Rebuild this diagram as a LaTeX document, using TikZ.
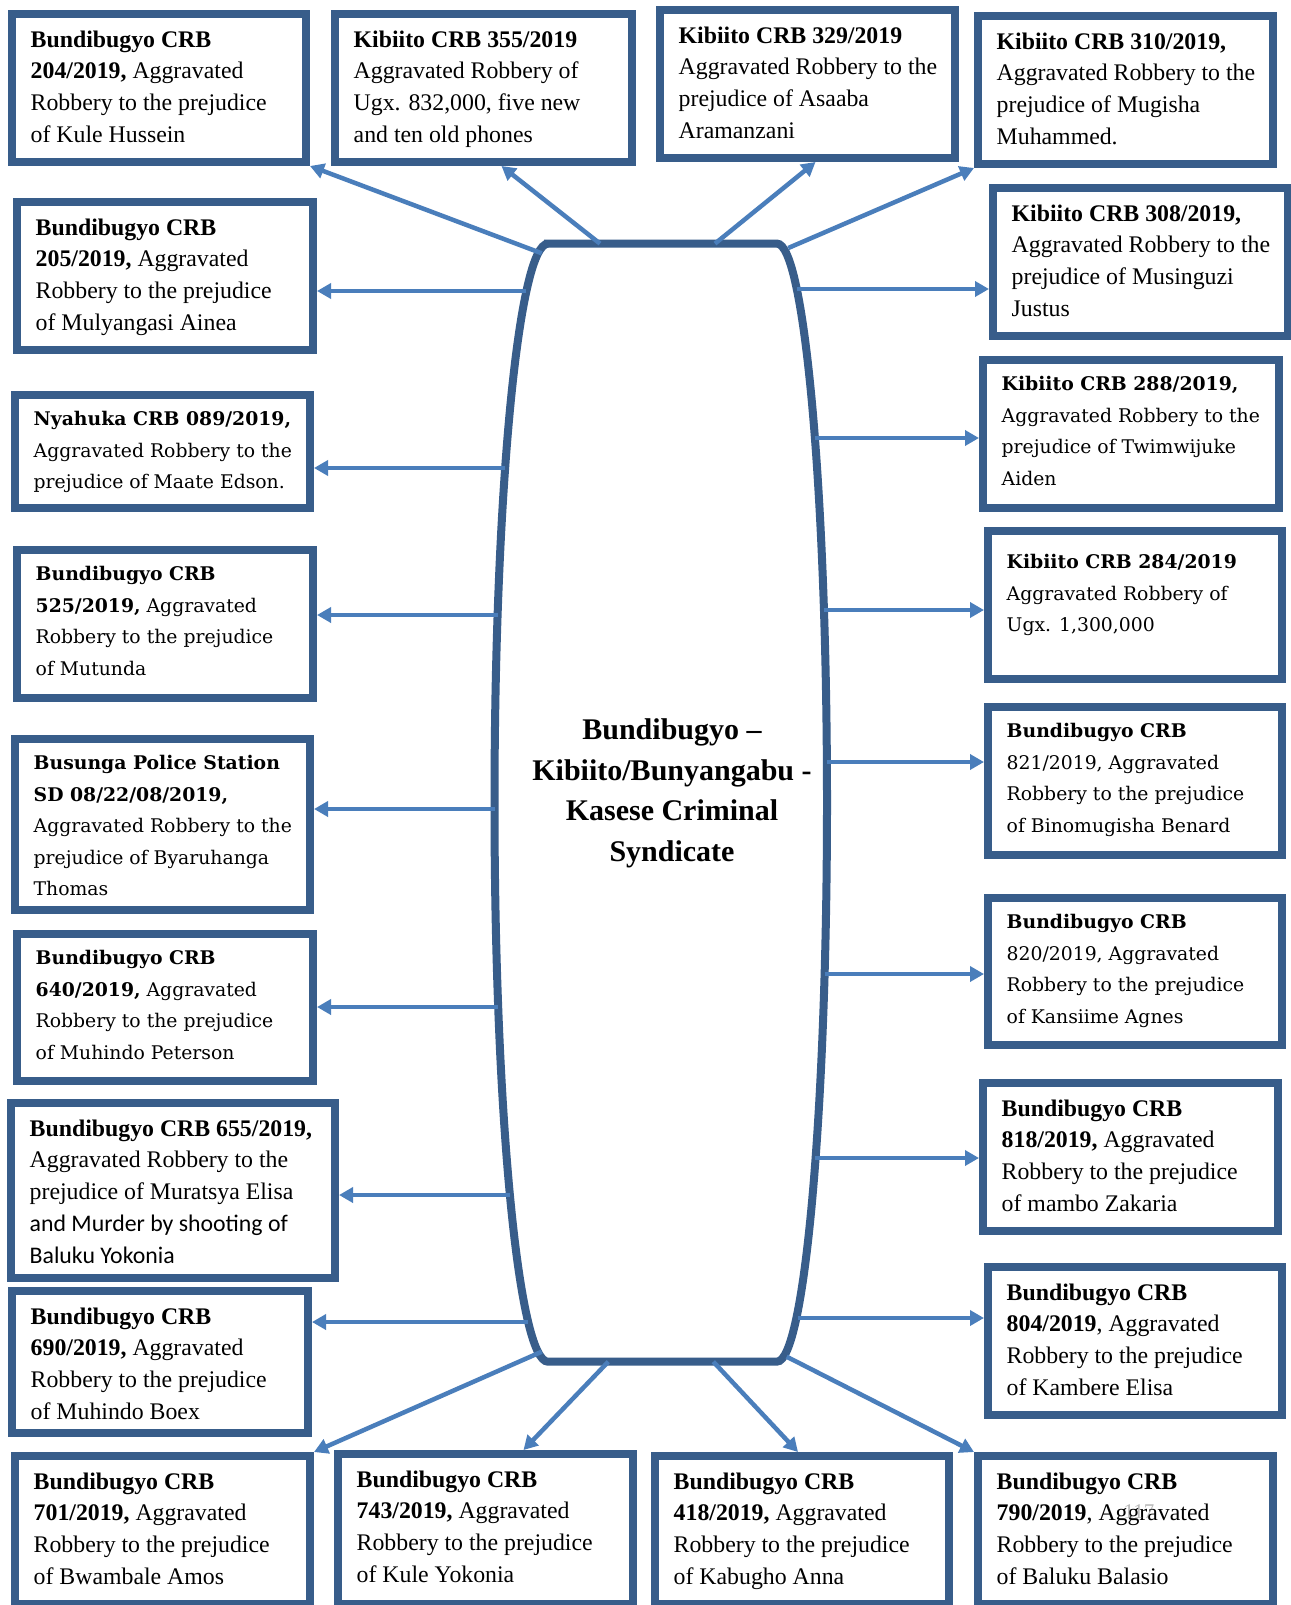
\documentclass[tikz,border=0pt]{standalone}
\usepackage{fontspec}
\setmainfont{Liberation Serif}
\newfontfamily\widefont{DejaVu Serif}
\newfontfamily\califont{Carlito}
\usetikzlibrary{arrows.meta}
\definecolor{frameblue}{HTML}{385D8A}
\definecolor{arrowblue}{HTML}{4A7EBB}
\newcommand\casenode[7]{%
  \node[casebox, minimum width=#4pt, minimum height=#5pt] (#1) at (#2,#3) {};
  \node[#6] (#1t) at ([xshift=22.5pt,yshift=-20.5pt]#1.north west) {#7};}
\begin{document}
\begin{tikzpicture}[x=1pt,y=-1pt,
  casebox/.style={draw=frameblue, line width=8pt, fill=white, rectangle, inner sep=0pt},
  txt/.style={anchor=north west, inner sep=0pt, align=left, font=\fontsize{23.8}{31.7}\selectfont},
  widetxt/.style={anchor=north west, inner sep=0pt, align=left, font=\widefont\fontsize{18.8}{31.4}\selectfont},
  link/.style={draw=arrowblue, line width=4.5pt, -{Triangle[length=14pt,width=15pt]}},
  hub/.style={draw=frameblue, line width=8pt, fill=white}]
\useasboundingbox[fill=white] (0,0) rectangle (1290,1605);

% central shape
\draw[hub] (548,243.6) -- (777,243.6)
  arc[start angle=90, end angle=-90, x radius=50pt, y radius=559pt]
  -- (548,1361.7)
  arc[start angle=270, end angle=90, x radius=53.5pt, y radius=559pt] -- cycle;
\node[font=\bfseries\fontsize{30}{40.5}\selectfont, align=center] (title) at (672,793.5)
  {Bundibugyo –\\Kibiito/Bunyangabu -\\Kasese Criminal\\Syndicate};

% boxes
\casenode{A}{159}{88}{294}{148}{txt}{\textbf{Bundibugyo CRB}\\\textbf{204/2019,} Aggravated\\Robbery to the prejudice\\of Kule Hussein}
\casenode{B}{483.5}{88}{297}{148}{txt}{\textbf{Kibiito CRB 355/2019}\\Aggravated Robbery of\\Ugx. 832,000, five new\\and ten old phones}
\casenode{C}{807.5}{84}{295}{148}{txt}{\textbf{Kibiito CRB 329/2019}\\Aggravated Robbery to the\\prejudice of Asaaba\\Aramanzani}
\casenode{D}{1125.5}{90}{295}{148}{txt}{\textbf{Kibiito CRB 310/2019,}\\Aggravated Robbery to the\\prejudice of Mugisha\\Muhammed.}
\casenode{E}{1140.5}{262}{295}{148}{txt}{\textbf{Kibiito CRB 308/2019,}\\Aggravated Robbery to the\\prejudice of Musinguzi\\Justus}
\casenode{F}{1131}{434}{296}{148}{widetxt}{\textbf{Kibiito CRB 288/2019,}\\Aggravated Robbery to the\\prejudice of Twimwijuke\\Aiden}
\casenode{G}{1135}{605}{294}{148}{widetxt, yshift=-7pt}{\textbf{Kibiito CRB 284/2019}\\Aggravated Robbery of\\Ugx. 1,300,000}
\casenode{H}{1135}{781}{294}{148}{widetxt}{\textbf{Bundibugyo CRB}\\821/2019, Aggravated\\Robbery to the prejudice\\of Binomugisha Benard}
\casenode{I}{1135}{971.5}{294}{147}{widetxt}{\textbf{Bundibugyo CRB}\\820/2019, Aggravated\\Robbery to the prejudice\\of Kansiime Agnes}
\casenode{J}{1130.5}{1157}{295}{148}{txt}{\textbf{Bundibugyo CRB}\\\textbf{818/2019,} Aggravated\\Robbery to the prejudice\\of mambo Zakaria}
\casenode{K}{1135}{1341}{294}{148}{txt}{\textbf{Bundibugyo CRB}\\\textbf{804/2019}, Aggravated\\Robbery to the prejudice\\of Kambere Elisa}
\casenode{L}{1125.5}{1530}{295}{148}{txt}{\textbf{Bundibugyo CRB}\\\textbf{790/2019}, Aggravated\\Robbery to the prejudice\\of Baluku Balasio}
\casenode{M}{802}{1530}{294}{148}{txt}{\textbf{Bundibugyo CRB}\\\textbf{418/2019,} Aggravated\\Robbery to the prejudice\\of Kabugho Anna}
\casenode{N}{485.5}{1529}{295}{150}{txt}{\textbf{Bundibugyo CRB}\\\textbf{743/2019,} Aggravated\\Robbery to the prejudice\\of Kule Yokonia}
\casenode{O}{162.5}{1530}{295}{148}{txt}{\textbf{Bundibugyo CRB}\\\textbf{701/2019,} Aggravated\\Robbery to the prejudice\\of Bwambale Amos}
\casenode{P}{160}{1362}{296}{142}{txt}{\textbf{Bundibugyo CRB}\\\textbf{690/2019,} Aggravated\\Robbery to the prejudice\\of Muhindo Boex}
\casenode{Q}{173}{1190.5}{324}{175}{txt}{\textbf{Bundibugyo CRB 655/2019,}\\Aggravated Robbery to the\\prejudice of Muratsya Elisa\\{\califont and Murder by shooting of}\\{\califont Baluku Yokonia}}
\casenode{R}{165}{1007.5}{296}{147}{widetxt}{\textbf{Bundibugyo CRB}\\\textbf{640/2019,} Aggravated\\Robbery to the prejudice\\of Muhindo Peterson}
\casenode{S}{162.5}{824.5}{295}{171}{widetxt}{\textbf{Busunga Police Station}\\\textbf{SD 08/22/08/2019,}\\Aggravated Robbery to the\\prejudice of Byaruhanga\\Thomas}
\casenode{T}{165}{624}{296}{148}{widetxt}{\textbf{Bundibugyo CRB}\\\textbf{525/2019,} Aggravated\\Robbery to the prejudice\\of Mutunda}
\casenode{U}{162.5}{451.5}{295}{113}{widetxt}{\textbf{Nyahuka CRB 089/2019,}\\Aggravated Robbery to the\\prejudice of Maate Edson.}
\casenode{V}{165}{276}{296}{148}{txt}{\textbf{Bundibugyo CRB}\\\textbf{205/2019,} Aggravated\\Robbery to the prejudice\\of Mulyangasi Ainea}

\node[font=\fontsize{21}{21}\selectfont, text=black!45, opacity=0.6] (pageno) at (1139,1512) {117};

% start points on the central shape
\coordinate (sA) at (541.7,253.3);
\coordinate (sB) at (600,243.6);
\coordinate (sC) at (715,243.6);
\coordinate (sD) at (788.3,248);
\coordinate (sE) at (796.7,289);
\coordinate (sF) at (814.9,438);
\coordinate (sG) at (823.9,610);
\coordinate (sH) at (826.9,762);
\coordinate (sI) at (824.5,974);
\coordinate (sJ) at (815.3,1158);
\coordinate (sK) at (798,1318);
\coordinate (sL) at (786.7,1356.7);
\coordinate (sM) at (713.3,1361.7);
\coordinate (sN) at (608.3,1361.7);
\coordinate (sO) at (541.7,1351.7);
\coordinate (sP) at (528.2,1322);
\coordinate (sQ) at (509.9,1195);
\coordinate (sR) at (498.2,1007);
\coordinate (sS) at (494.5,809);
\coordinate (sT) at (497.6,615);
\coordinate (sU) at (505.1,468);
\coordinate (sV) at (526.4,291);

% connectors
\draw[link] (sA) -- (A.south east);
\draw[link] (sB) -- ([xshift=18pt]B.south);
\draw[link] (sC) -- ([xshift=8pt]C.south);
\draw[link] (sD) -- (D.south west);
\draw[link] (sE) -- (sE -| E.west);
\draw[link] (sF) -- (sF -| F.west);
\draw[link] (sG) -- (sG -| G.west);
\draw[link] (sH) -- (sH -| H.west);
\draw[link] (sI) -- (sI -| I.west);
\draw[link] (sJ) -- (sJ -| J.west);
\draw[link] (sK) -- (sK -| K.west);
\draw[link] (sL) -- (L.north west);
\draw[link] (sM) -- ([xshift=-4pt]M.north);
\draw[link] (sN) -- ([xshift=38pt]N.north);
\draw[link] (sO) -- (O.north east);
\draw[link] (sP) -- (sP -| P.east);
\draw[link] (sQ) -- (sQ -| Q.east);
\draw[link] (sR) -- (sR -| R.east);
\draw[link] (sS) -- (sS -| S.east);
\draw[link] (sT) -- (sT -| T.east);
\draw[link] (sU) -- (sU -| U.east);
\draw[link] (sV) -- (sV -| V.east);
\end{tikzpicture}
\end{document}
